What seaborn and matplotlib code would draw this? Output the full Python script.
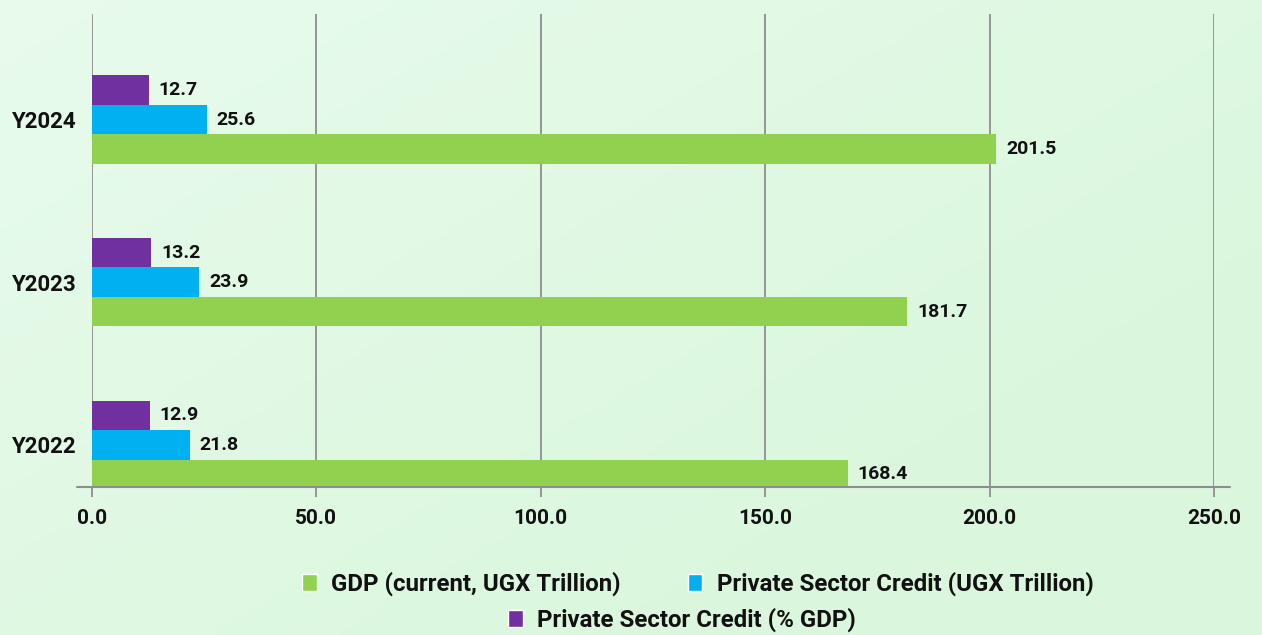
import numpy as np
import pandas as pd
import matplotlib
matplotlib.use("Agg")
import matplotlib.pyplot as plt
import seaborn as sns
from matplotlib.patches import Patch

# ---- data ----
years = ["Y2024", "Y2023", "Y2022"]
gdp = [201.5, 181.7, 168.4]
psc = [25.6, 23.9, 21.8]
psc_pct = [12.7, 13.2, 12.9]
series_names = ["GDP (current, UGX Trillion)",
                "Private Sector Credit (UGX Trillion)",
                "Private Sector Credit (% GDP)"]
colors = {"GDP (current, UGX Trillion)": "#92d050",
          "Private Sector Credit (UGX Trillion)": "#00b0f0",
          "Private Sector Credit (% GDP)": "#7030a0"}
x_ticks = [0, 50, 100, 150, 200, 250]

rows = []
for name, vals in zip(series_names, [gdp, psc, psc_pct]):
    for y, v in zip(years, vals):
        rows.append({"Year": y, "Value": v, "Series": name})
df = pd.DataFrame(rows)

sns.set_theme(style="white")
plt.rcParams["font.family"] = ["Roboto", "DejaVu Sans"]

W, H = 1262, 635
fig = plt.figure(figsize=(W / 100, H / 100), dpi=100)

# background gradient
bg = fig.add_axes([0, 0, 1, 1], zorder=-10)
gx, gy = np.meshgrid(np.linspace(0, 1, 200), np.linspace(0, 1, 100))
g = np.clip(1 - (gx * 0.7 + gy * 0.6), 0, 1)
c1 = np.array([0.855, 0.969, 0.867])
c2 = np.array([0.910, 0.984, 0.925])
img = c1[None, None, :] + (c2 - c1)[None, None, :] * g[..., None]
bg.imshow(img, aspect="auto", extent=[0, 1, 0, 1], origin="upper")
bg.axis("off")

ax = fig.add_axes([92 / W, 1 - 487 / H, (1214 - 92) / W, (487 - 14) / H])
ax.set_facecolor("none")

hue_order = [series_names[2], series_names[1], series_names[0]]
sns.barplot(data=df, y="Year", x="Value", hue="Series", hue_order=hue_order,
            order=years, palette=colors, orient="h", width=0.544,
            saturation=1, errorbar=None, legend=False, ax=ax, zorder=3,
            linewidth=0, edgecolor="none")

for cont in ax.containers:
    ax.bar_label(cont, fmt="%.1f", padding=7, fontsize=14, fontweight="bold",
                 color="#111111")

ax.set_xlim(0, 250)
ax.set_ylim(2.259, -0.649)
ax.set_xticks(x_ticks)
ax.set_xticklabels([f"{t:.1f}" for t in x_ticks], fontsize=15, fontweight="bold",
                   color="#111111")
for lab in ax.get_yticklabels():
    lab.set_fontsize(16)
    lab.set_fontweight("bold")
    lab.set_color("#111111")
ax.set_xlabel("")
ax.set_ylabel("")
for s in ax.spines.values():
    s.set_visible(False)
ax.grid(axis="x", color="#8e8e8e", linewidth=1.3, zorder=0)
ax.grid(axis="y", visible=False)
ax.set_axisbelow(True)
ax.tick_params(axis="x", direction="out", length=7.5, width=1.3, color="#8e8e8e",
               pad=8, bottom=True)
ax.tick_params(axis="y", length=0, pad=11)
ax.plot([-0.0134, 1.0143], [0, 0], transform=ax.transAxes, clip_on=False,
        color="#8e8e8e", linewidth=1.5, zorder=4)

# legends: centered rows
h1 = [Patch(facecolor=colors[series_names[0]]), Patch(facecolor=colors[series_names[1]])]
h2 = [Patch(facecolor=colors[series_names[2]])]
leg_kw = dict(frameon=False, prop={"size": 17.3, "weight": "bold"}, handlelength=0.6,
              handleheight=0.75, handletextpad=0.6, columnspacing=2.8)
leg1 = fig.legend(h1, series_names[:2], loc="center", ncol=2,
                  bbox_to_anchor=(698 / W, 1 - 584 / H), **leg_kw)
leg2 = fig.legend(h2, series_names[2:], loc="center", ncol=1,
                  bbox_to_anchor=(682 / W, 1 - 620 / H), **leg_kw)
for lg in (leg1, leg2):
    for t in lg.get_texts():
        t.set_color("#111111")

fig.savefig("out.png", dpi=100)
